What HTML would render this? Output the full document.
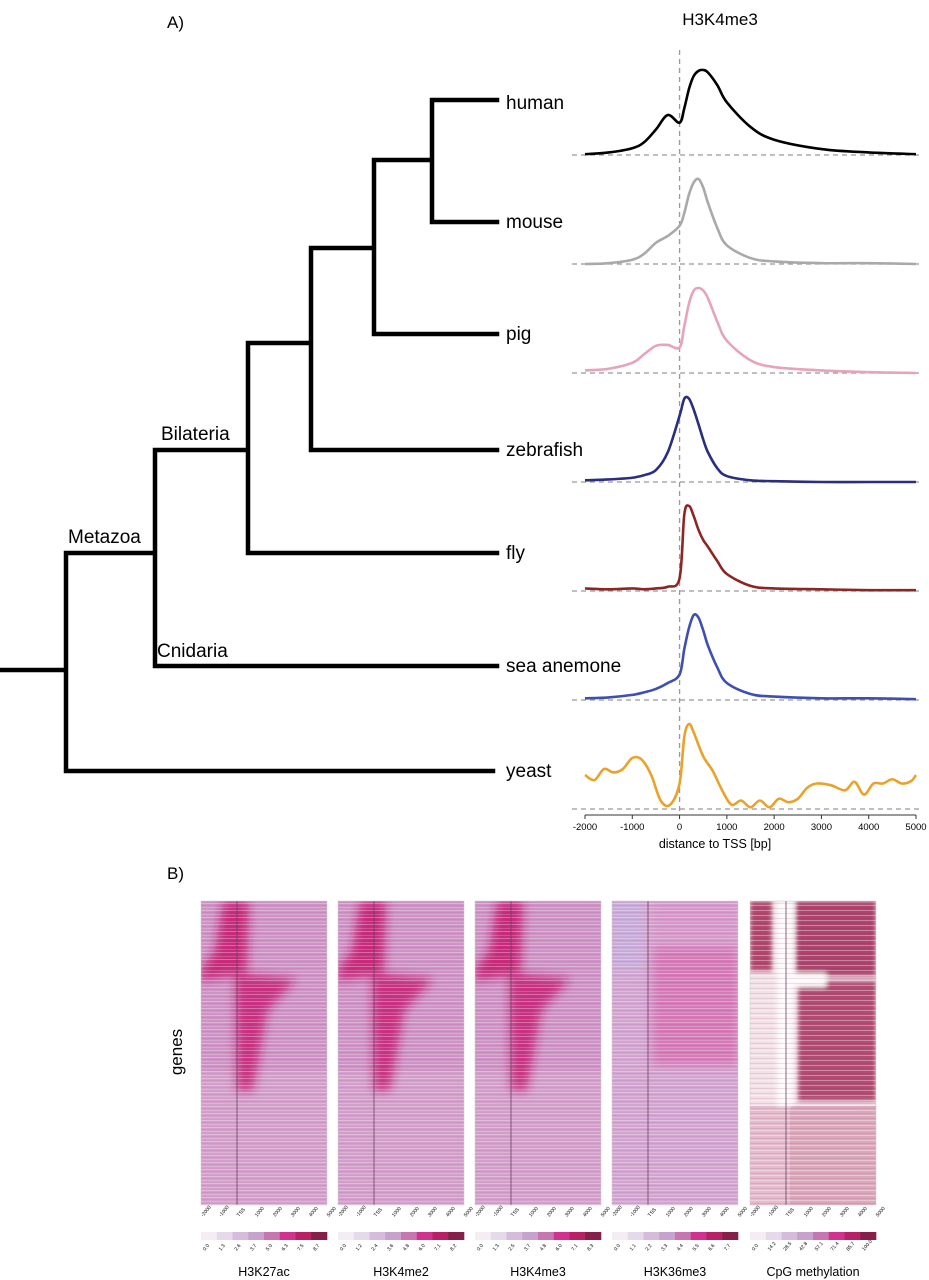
<!DOCTYPE html>
<html><head><meta charset="utf-8"><style>
body{margin:0;background:#fff;}
svg{display:block;font-family:"Liberation Sans",sans-serif;}
</style></head><body>
<svg id="fig" width="929" height="1280" viewBox="0 0 929 1280">
<defs>
<pattern id="stripes" width="130" height="7" patternUnits="userSpaceOnUse">
<rect x="0" y="0" width="130" height="1" fill="#fff" opacity="0.3"/>
<rect x="0" y="2" width="130" height="1" fill="#8a2a6a" opacity="0.1"/>
<rect x="0" y="4" width="130" height="1" fill="#fff" opacity="0.18"/>
<rect x="0" y="6" width="130" height="0.6" fill="#8a2a6a" opacity="0.08"/>
</pattern>
<pattern id="cpgstripes" width="130" height="5" patternUnits="userSpaceOnUse">
<rect x="0" y="0" width="130" height="1" fill="#fff" opacity="0.35"/>
<rect x="0" y="3" width="130" height="0.8" fill="#7a1a40" opacity="0.15"/>
</pattern>
<filter id="blur"><feGaussianBlur stdDeviation="5"/></filter>
<filter id="blur2"><feGaussianBlur stdDeviation="2.5"/></filter>
</defs>
<text x="167" y="28" font-size="17">A)</text>
<text x="720" y="25" font-size="17" text-anchor="middle">H3K4me3</text>
<g id="tree" stroke="#000" stroke-width="4.5" fill="none">
<path d="M0 670H66M66 553V771M66 771H493M66 553H155M155 450V666M155 666H497M155 450H248M248 343V553M248 553H497M248 343H311M311 248V450M311 450H497M311 248H374M374 160V334M374 334H497M374 160H432M432 100V222M432 100H497M432 222H497" stroke-linecap="square"/>
</g>
<g font-size="19">
<text x="506" y="109">human</text><text x="506" y="228">mouse</text><text x="506" y="340">pig</text>
<text x="506" y="456">zebrafish</text><text x="506" y="559">fly</text><text x="506" y="672">sea anemone</text>
<text x="506" y="777">yeast</text>
<text x="68" y="543">Metazoa</text><text x="161" y="440">Bilateria</text><text x="157" y="657">Cnidaria</text>
</g>
<g id="profiles"></g>
<text x="167" y="879" font-size="17">B)</text>
<text x="0" y="0" font-size="17" transform="translate(182,1052) rotate(-90)" text-anchor="middle">genes</text>
<g id="heatmaps"></g>
</svg>
<script>
const NS='http://www.w3.org/2000/svg';
const svg=document.getElementById('fig');
// ---- profile data ----
const xStd=[-2000,-1500,-1000,-750,-500,-250,0,100,200,300,400,500,600,800,1000,1500,2000,3000,4000,5000];
const speciesNames=['human','mouse','pig','zebrafish','fly','sea anemone','yeast'];
const speciesColors=['#000000','#a9a9a9','#e6a3ba','#2b2d7e','#8e2525','#3f4fb0','#e9a22a'];
const humanVals=[0.01,0.03,0.08,0.15,0.3,0.47,0.38,0.55,0.78,0.93,0.99,1.0,0.97,0.82,0.62,0.33,0.18,0.07,0.03,0.01];
const mouseVals=[0,0.01,0.05,0.12,0.25,0.33,0.45,0.6,0.82,0.96,1.0,0.9,0.72,0.42,0.22,0.07,0.03,0.01,0.01,0];
const pigVals=[0.03,0.05,0.12,0.22,0.32,0.33,0.3,0.55,0.82,0.97,1.0,0.97,0.88,0.6,0.38,0.15,0.07,0.03,0.01,0];
const zebrafishVals=[0.02,0.03,0.05,0.08,0.14,0.35,0.78,0.98,0.98,0.85,0.68,0.5,0.35,0.16,0.07,0.02,0.01,0,0,0];
const flyVals=[0.03,0.02,0.03,0.02,0.03,0.05,0.15,0.9,1.0,0.88,0.72,0.6,0.52,0.35,0.2,0.06,0.03,0.02,0.01,0.01];
const anemoneVals=[0.02,0.03,0.06,0.09,0.13,0.2,0.3,0.6,0.85,1.0,0.97,0.82,0.64,0.38,0.2,0.07,0.04,0.02,0.02,0.01];
const xYeast=[-2000,-1800,-1600,-1400,-1200,-1000,-800,-600,-400,-200,0,100,200,300,500,700,900,1100,1300,1500,1700,1900,2100,2300,2500,2700,2900,3200,3500,3700,3900,4100,4300,4500,4700,4900,5000];
const yeastVals=[0.4,0.34,0.47,0.43,0.47,0.6,0.58,0.4,0.1,0.05,0.3,0.85,1.0,0.9,0.62,0.45,0.22,0.05,0.1,0.02,0.1,0.02,0.12,0.08,0.12,0.25,0.3,0.28,0.22,0.32,0.17,0.3,0.3,0.35,0.3,0.33,0.4];
const seriesVals=[humanVals,mouseVals,pigVals,zebrafishVals,flyVals,anemoneVals,yeastVals];
const seriesX=[xStd,xStd,xStd,xStd,xStd,xStd,xYeast];
const xTicks=[-2000,-1000,0,1000,2000,3000,4000,5000];
const baselines=[155,264,373,482,591,700,809];
const sx=v=>585+(v+2000)/7000*331;
const amp=85;
const prof=document.getElementById('profiles');
function mk(tag,attrs,parent){const e=document.createElementNS(NS,tag);for(const k in attrs)e.setAttribute(k,attrs[k]);(parent||svg).appendChild(e);return e;}
const vline=mk('line',{x1:sx(0),x2:sx(0),y1:50,y2:812,stroke:'#999','stroke-width':1.3,'stroke-dasharray':'5,4'},prof);


seriesVals.forEach((vals,i)=>{
  const b=baselines[i];
  const bl=mk('line',{x1:572,x2:922,y1:b,y2:b,stroke:'#999','stroke-width':1.3,'stroke-dasharray':'5,4'},prof);
  
  
  const xs=seriesX[i];
  const pts=xs.map((x,j)=>[sx(x),b-vals[j]*amp]);
  let d='M'+pts[0][0]+' '+pts[0][1];
  for(let j=1;j<pts.length;j++){
    const p0=pts[Math.max(0,j-2)],p1=pts[j-1],p2=pts[j],p3=pts[Math.min(pts.length-1,j+1)];
    const c1=[p1[0]+(p2[0]-p0[0])/6,p1[1]+(p2[1]-p0[1])/6],c2=[p2[0]-(p3[0]-p1[0])/6,p2[1]-(p3[1]-p1[1])/6];
    d+=`C${c1[0]} ${c1[1]} ${c2[0]} ${c2[1]} ${p2[0]} ${p2[1]}`;
  }
  const ln=mk('path',{d,fill:'none',stroke:speciesColors[i],'stroke-width':2.6},prof);
  
  
});
mk('line',{x1:sx(-2000),x2:sx(5000),y1:815,y2:815,stroke:'#333','stroke-width':1},prof);
xTicks.forEach(t=>{
  mk('line',{x1:sx(t),x2:sx(t),y1:815,y2:819,stroke:'#333'},prof);
  const tx=mk('text',{x:sx(t),y:830,'font-size':9.5,'text-anchor':'middle'},prof);
  tx.textContent=t;
  
  
});
const xt=mk('text',{x:715,y:848,'font-size':12.5,'text-anchor':'middle'},prof);
xt.textContent='distance to TSS [bp]';



// ---- heatmaps ----
const markNames=['H3K27ac','H3K4me2','H3K4me3','H3K36me3','CpG methylation'];
const panelLeft=[201,338,475,612,750];
const barLabels=[['0.0','1.3','2.6','3.7','5.0','6.3','7.5','8.7'],['0.0','1.2','2.4','3.6','4.8','6.0','7.1','8.2'],['0.0','1.3','2.5','3.7','4.8','6.0','7.1','8.3'],['0.0','1.1','2.2','3.3','4.4','5.5','6.6','7.7'],['0.0','14.2','28.5','42.8','57.1','71.4','85.7','100.0']];
const barColors=['#f4eef4','#e6d9ea','#d5bcdd','#c8a2cf','#c677b2','#d2328f','#b92165','#86204a'];
const hmTicks=['-2000','-1000','TSS','1000','2000','3000','4000','5000'];
const W=126,T=901,H=304;
const hg=document.getElementById('heatmaps');
markNames.forEach((m,i)=>{
  const L=panelLeft[i];
  const g=mk('g',{},hg);
  
  
  const tss=L+W*2/7;
  const clip=mk('clipPath',{id:'c'+i},g);mk('rect',{x:L,y:T,width:W,height:H},clip);
  const inner=mk('g',{'clip-path':`url(#c${i})`},g);
  if(i<3){
    mk('rect',{x:L,y:T,width:W,height:H,fill:'#cf95c6'},inner);
    mk('rect',{x:L,y:T+170,width:W,height:H-170,fill:'#d6a6cf',opacity:0.7},inner);
    const fg=mk('g',{filter:'url(#blur)'},inner);
    const c='#c6156f';
    mk('path',{d:`M${tss-14} ${T} L${tss+12} ${T} L${tss+10} ${T+70} L${tss-6} ${T+75} L${L} ${T+80} L${L} ${T+68} L${tss-22} ${T+50}Z`,fill:c,opacity:0.85},fg);
    mk('path',{d:`M${tss-2} ${T+72} L${L+95} ${T+78} L${tss+30} ${T+110} L${tss+16} ${T+190} L${tss} ${T+190}Z`,fill:c,opacity:0.8},fg);
  } else if(i===3){
    mk('rect',{x:L,y:T,width:W,height:H,fill:'#d4a7d2'},inner);
    const fg=mk('g',{filter:'url(#blur)'},inner);
    mk('rect',{x:L,y:T,width:30,height:70,fill:'#c6b0de',opacity:0.8},fg);
    mk('rect',{x:L+40,y:T+45,width:86,height:120,fill:'#d668ad',opacity:0.7},fg);
    mk('rect',{x:L+40,y:T,width:86,height:40,fill:'#d98fc4',opacity:0.6},fg);
  } else {
    mk('rect',{x:L,y:T,width:W,height:H,fill:'#f2e2e8'},inner);
    mk('rect',{x:L,y:T+205,width:W,height:H-205,fill:'#e4bccb'},inner);
    mk('rect',{x:L+40,y:T+205,width:86,height:H-205,fill:'#dba9bc'},inner);
    const fg=mk('g',{filter:'url(#blur2)'},inner);
    mk('rect',{x:L,y:T,width:22,height:70,fill:'#a8385f',opacity:0.9},fg);
    mk('rect',{x:L+46,y:T,width:80,height:75,fill:'#a33560',opacity:0.9},fg);
    mk('rect',{x:L+48,y:T+80,width:78,height:120,fill:'#a83a62',opacity:0.88},fg);
    mk('rect',{x:L+27,y:T,width:16,height:205,fill:'#fdfafb'},fg);
    mk('rect',{x:L+36,y:T+72,width:40,height:14,fill:'#fdfafb'},fg);
  }
  mk('rect',{x:L,y:T,width:W,height:H,fill:i===4?'url(#cpgstripes)':'url(#stripes)'},inner);
  mk('line',{x1:tss,x2:tss,y1:T,y2:T+H,stroke:'#6a4060','stroke-width':0.8},inner);
  mk('rect',{x:L,y:T,width:W,height:H,fill:'none',stroke:'#ccc','stroke-width':0.5},g);
  hmTicks.forEach((t,k)=>{
    const tx=mk('text',{'font-size':5,transform:`translate(${L+k*W/7+2},${T+H+12}) rotate(-50)`},g);
    tx.textContent=t;
    
    
  });
  barColors.forEach((col,k)=>{
    const r=mk('rect',{x:L+k*W/8,y:1232,width:W/8+0.3,height:8,fill:col},g);
    
    
    const tx=mk('text',{'font-size':5,transform:`translate(${L+k*W/8+4},${1251}) rotate(-50)`},g);
    tx.textContent=barLabels[i][k];
    
    
  });
  const nm=mk('text',{x:L+W/2,y:1276,'font-size':12.5,'text-anchor':'middle'},g);
  nm.textContent=m;
  
  
});
</script>
</body></html>
